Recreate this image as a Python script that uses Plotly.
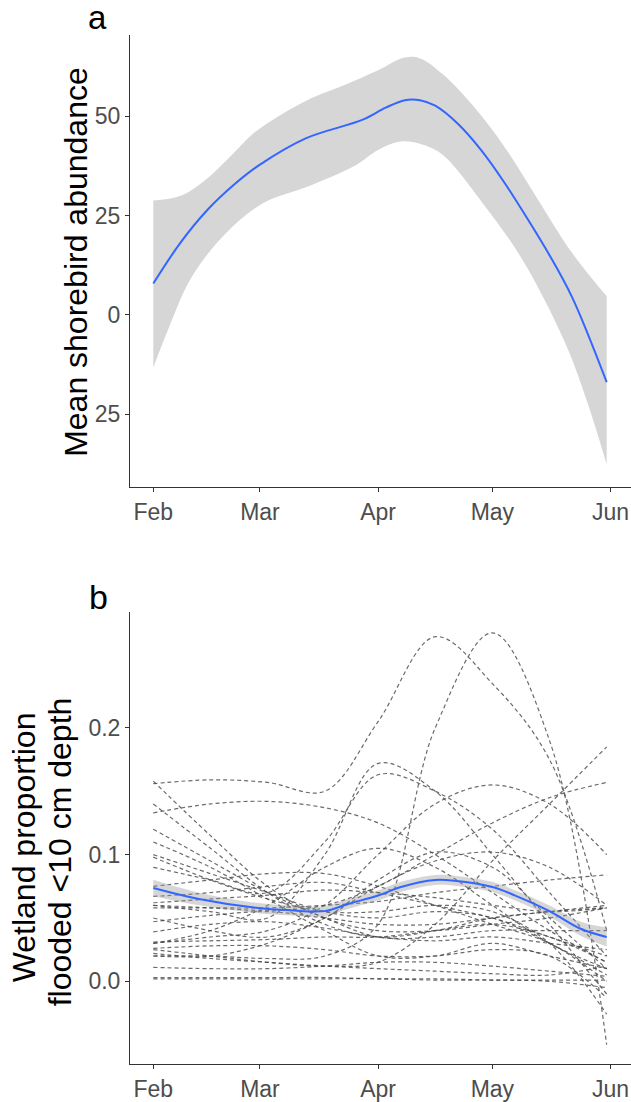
import pandas as pd
import plotly.graph_objects as go

# ---------------- data ----------------
BASE_DATE = "2019-02-01"
month_ticks = ["2019-02-01", "2019-03-01", "2019-04-01", "2019-05-01", "2019-06-01"]
month_labels = ["Feb", "Mar", "Apr", "May", "Jun"]

# panel a: smoothed mean shorebird abundance (days since Feb 1)
a_days = [0, 7, 14, 21, 28, 40, 55, 61, 66, 70, 74, 80, 86, 92, 98, 104, 110, 119]
a_mean = [7.9, 18.0, 26.2, 32.6, 37.8, 44.4, 49.1, 52.1, 54.0, 54.0, 52.6, 48.0, 41.5, 33.5, 24.5, 15.0, 4.3, -16.9]
a_up_days = [0, 7, 14, 21, 27, 40, 51, 59, 66, 70, 76, 84, 92, 100, 110, 119]
a_upper = [28.8, 29.9, 34.2, 40.6, 46.2, 53.8, 58.1, 61.5, 64.7, 64.5, 60.5, 52.5, 42.5, 30.5, 15.5, 4.7]
a_lo_days = [0, 4, 10, 19, 29, 40, 53, 59, 65, 71, 76, 87, 97, 108, 114, 119]
a_lower = [-13.2, -3.4, 9.4, 20.5, 28.2, 32.1, 37.6, 41.5, 43.6, 42.7, 40.2, 27.4, 13.7, -6.8, -22.2, -37.6]
a_ticks = [-25, 0, 25, 50]
a_tick_labels = ["25", "0", "25", "50"]

# panel b: overall smooth of wetland proportion flooded <10 cm
b_days = [0, 12, 27, 36, 45, 51, 59, 65, 74, 79, 89, 95, 104, 112, 119]
b_mean = [0.0737, 0.065, 0.058, 0.056, 0.0554, 0.061, 0.0677, 0.0745, 0.080, 0.0794, 0.0745, 0.0677, 0.0554, 0.0417, 0.035]
b_upper = [0.0802, 0.070, 0.062, 0.060, 0.0594, 0.065, 0.0717, 0.0785, 0.084, 0.0834, 0.0785, 0.0717, 0.0599, 0.0472, 0.0425]
b_lower = [0.0672, 0.060, 0.054, 0.052, 0.0514, 0.057, 0.0637, 0.0705, 0.076, 0.0754, 0.0705, 0.0637, 0.0509, 0.0362, 0.0275]
b_ticks = [0.0, 0.1, 0.2]
b_tick_labels = ["0.0", "0.1", "0.2"]

# individual wetland site smooths (values at these days)
site_days = [0, 15, 30, 45, 59, 74, 89, 104, 119]
site_01 = [0.156, 0.159, 0.157, 0.150, 0.205, 0.272, 0.235, 0.175, 0.040]
site_02 = [0.020, 0.020, 0.018, 0.020, 0.045, 0.200, 0.275, 0.190, -0.050]
site_03 = [0.133, 0.140, 0.142, 0.137, 0.125, 0.100, 0.070, 0.040, 0.015]
site_04 = [0.060, 0.055, 0.050, 0.100, 0.172, 0.150, 0.100, 0.045, -0.010]
site_05 = [0.090, 0.080, 0.070, 0.110, 0.163, 0.150, 0.120, 0.070, 0.020]
site_06 = [0.025, 0.020, 0.015, 0.012, 0.015, 0.045, 0.095, 0.140, 0.185]
site_07 = [0.060, 0.058, 0.056, 0.060, 0.075, 0.100, 0.125, 0.145, 0.157]
site_08 = [0.030, 0.035, 0.040, 0.060, 0.100, 0.140, 0.155, 0.140, 0.100]
site_09 = [0.030, 0.040, 0.060, 0.090, 0.105, 0.090, 0.060, 0.030, 0.010]
site_10 = [0.050, 0.040, 0.035, 0.050, 0.080, 0.102, 0.090, 0.050, 0.010]
site_11 = [0.020, 0.020, 0.030, 0.050, 0.075, 0.095, 0.102, 0.090, 0.060]
site_12 = [0.158, 0.115, 0.075, 0.050, 0.040, 0.040, 0.045, 0.050, 0.058]
site_13 = [0.140, 0.105, 0.070, 0.045, 0.035, 0.040, 0.050, 0.055, 0.060]
site_14 = [0.120, 0.095, 0.070, 0.050, 0.035, 0.035, 0.040, 0.040, 0.040]
site_15 = [0.110, 0.090, 0.065, 0.040, 0.020, 0.020, 0.030, 0.020, 0.010]
site_16 = [0.100, 0.085, 0.070, 0.055, 0.050, 0.055, 0.050, 0.030, 0.005]
site_17 = [0.075, 0.080, 0.085, 0.085, 0.075, 0.060, 0.045, 0.030, 0.000]
site_18 = [0.067, 0.070, 0.075, 0.078, 0.070, 0.060, 0.050, 0.035, 0.020]
site_19 = [0.062, 0.065, 0.068, 0.072, 0.070, 0.066, 0.060, 0.055, 0.058]
site_20 = [0.058, 0.058, 0.058, 0.060, 0.063, 0.070, 0.075, 0.080, 0.084]
site_21 = [0.047, 0.052, 0.055, 0.050, 0.045, 0.045, 0.050, 0.055, 0.058]
site_22 = [0.039, 0.045, 0.047, 0.042, 0.035, 0.032, 0.035, 0.030, 0.025]
site_23 = [0.031, 0.032, 0.033, 0.035, 0.035, 0.040, 0.045, 0.035, 0.015]
site_24 = [0.026, 0.028, 0.028, 0.025, 0.020, 0.020, 0.025, 0.020, -0.013]
site_25 = [0.011, 0.010, 0.010, 0.012, 0.015, 0.015, 0.012, 0.008, 0.004]
site_26 = [0.003, 0.003, 0.003, 0.003, 0.002, 0.002, 0.001, 0.001, 0.001]
site_27 = [0.002, 0.002, 0.002, 0.002, 0.002, 0.001, 0.001, 0.000, -0.005]
site_28 = [0.022, 0.018, 0.015, 0.012, 0.010, 0.008, 0.006, 0.005, 0.012]
site_29 = [0.098, 0.080, 0.065, 0.055, 0.055, 0.060, 0.055, 0.030, -0.026]

sites = [site_01, site_02, site_03, site_04, site_05, site_06, site_07, site_08, site_09,
         site_10, site_11, site_12, site_13, site_14, site_15, site_16, site_17, site_18,
         site_19, site_20, site_21, site_22, site_23, site_24, site_25, site_26, site_27,
         site_28, site_29]

# ---------------- helpers ----------------
base = pd.Timestamp(BASE_DATE)


def to_dates(days):
    return [base + pd.Timedelta(days=d) for d in days]


W, H = 631, 1102
FONT = "Liberation Sans, Arial, sans-serif"
BLUE = "#3366FF"
RIBBON = "rgba(153,153,153,0.4)"


def px(x):
    return x / W


def py(y):
    return 1 - y / H


fig = go.Figure()

# ---- panel a ----
fig.add_trace(go.Scatter(x=to_dates(a_lo_days), y=a_lower, mode="lines",
                         line=dict(width=0, shape="spline", smoothing=1.0),
                         xaxis="x", yaxis="y", hoverinfo="skip"))
fig.add_trace(go.Scatter(x=to_dates(a_up_days), y=a_upper, mode="lines",
                         line=dict(width=0, shape="spline", smoothing=1.0),
                         fill="tonexty", fillcolor=RIBBON,
                         xaxis="x", yaxis="y", hoverinfo="skip"))
fig.add_trace(go.Scatter(x=to_dates(a_days), y=a_mean, mode="lines",
                         line=dict(color=BLUE, width=2, shape="spline", smoothing=1.0),
                         xaxis="x", yaxis="y"))

# ---- panel b ----
for s in sites:
    fig.add_trace(go.Scatter(x=to_dates(site_days), y=s, mode="lines",
                             line=dict(color="rgba(70,70,70,0.8)", width=1.2, dash="4px,3px",
                                       shape="spline", smoothing=1.0),
                             xaxis="x2", yaxis="y2"))
fig.add_trace(go.Scatter(x=to_dates(b_days), y=b_lower, mode="lines",
                         line=dict(width=0, shape="spline", smoothing=1.0),
                         xaxis="x2", yaxis="y2", hoverinfo="skip"))
fig.add_trace(go.Scatter(x=to_dates(b_days), y=b_upper, mode="lines",
                         line=dict(width=0, shape="spline", smoothing=1.0),
                         fill="tonexty", fillcolor=RIBBON,
                         xaxis="x2", yaxis="y2", hoverinfo="skip"))
fig.add_trace(go.Scatter(x=to_dates(b_days), y=b_mean, mode="lines",
                         line=dict(color=BLUE, width=2, shape="spline", smoothing=1.0),
                         xaxis="x2", yaxis="y2"))

# ---- axes ----
x_left_px, x_right_px = 130, 631
feb_px, px_per_day = 153.3, 3.81
x_range = [base + pd.Timedelta(days=(x_left_px - feb_px) / px_per_day),
           base + pd.Timedelta(days=(x_right_px - feb_px) / px_per_day)]

axis_common = dict(showgrid=False, zeroline=False, showline=True, linecolor="#333333",
                   linewidth=1, ticks="outside", ticklen=4, tickwidth=1, tickcolor="#333333",
                   tickfont=dict(family=FONT, size=23, color="#4D4D4D"), mirror=False)

xa = dict(axis_common, type="date", range=x_range, tickvals=month_ticks, ticktext=month_labels,
          domain=[px(x_left_px), 1.0])

# panel a: y axis from 490 px (bottom) to 35 px (top); 0 at 316.7, 4 px per unit
a_top_px, a_bot_px, a_zero_px, a_ppu = 35, 490, 316.7, 4.0
a_range = [(a_zero_px - a_bot_px) / a_ppu, (a_zero_px - a_top_px) / a_ppu]
# panel b: 0 at 986.7, 1274 px per unit
b_top_px, b_bot_px, b_zero_px, b_ppu = 615, 1070, 986.7, 1274.0
b_range = [(b_zero_px - b_bot_px) / b_ppu, (b_zero_px - b_top_px) / b_ppu]

fig.update_layout(
    width=W, height=H, autosize=False,
    margin=dict(l=0, r=0, t=0, b=0),
    paper_bgcolor="white", plot_bgcolor="white",
    showlegend=False,
    xaxis=dict(xa, anchor="y"),
    yaxis=dict(axis_common, range=a_range, tickvals=a_ticks, ticktext=a_tick_labels,
               domain=[py(a_bot_px), py(a_top_px)], anchor="x"),
    xaxis2=dict(xa, anchor="y2"),
    yaxis2=dict(axis_common, range=b_range, tickvals=b_ticks, ticktext=b_tick_labels,
                domain=[py(b_bot_px), py(b_top_px)], anchor="x2"),
    annotations=[
        dict(text="a", x=px(85.5), y=py(18), xref="paper", yref="paper", xanchor="left",
             yanchor="middle", showarrow=False, font=dict(family=FONT, size=33, color="black")),
        dict(text="b", x=px(86.7), y=py(600.2), xref="paper", yref="paper", xanchor="left",
             yanchor="middle", showarrow=False, font=dict(family=FONT, size=34, color="black")),
        dict(text="Mean shorebird abundance", x=px(75.3), y=py(263), xref="paper", yref="paper",
             xanchor="center", yanchor="middle", textangle=-90, showarrow=False,
             font=dict(family=FONT, size=32, color="black")),
        dict(text="Wetland proportion", x=px(24), y=py(852), xref="paper", yref="paper",
             xanchor="center", yanchor="middle", textangle=-90, showarrow=False,
             font=dict(family=FONT, size=32, color="black")),
        dict(text="flooded <10 cm depth", x=px(60), y=py(857), xref="paper", yref="paper",
             xanchor="center", yanchor="middle", textangle=-90, showarrow=False,
             font=dict(family=FONT, size=32, color="black")),
    ],
)

fig.write_html("out.html")
